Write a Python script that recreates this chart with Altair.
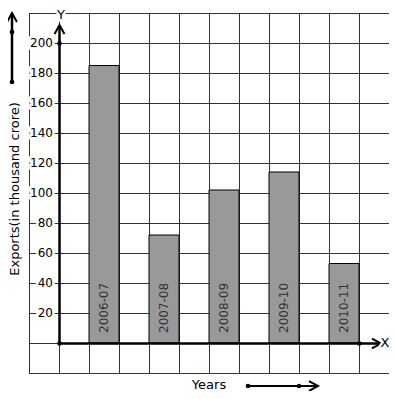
import altair as alt
import pandas as pd

years = ["2006-07", "2007-08", "2008-09", "2009-10", "2010-11"]
exports = [185, 72, 102, 114, 53]
y_labels = [20, 40, 60, 80, 100, 120, 140, 160, 180, 200]
x_grid = list(range(-1, 12))
y_grid = list(range(-20, 221, 20))

df = pd.DataFrame({"year": years, "value": exports})
df["x0"] = [2 * i + 1 for i in range(len(years))]
df["x1"] = df["x0"] + 1
df["xm"] = df["x0"] + 0.5
df["base"] = 0

lab = pd.DataFrame({"v": y_labels})
gx = pd.DataFrame({"gx": x_grid})
gy = pd.DataFrame({"gy": y_grid})
one = pd.DataFrame({"a": [0]})

FONT = "DejaVu Sans"
xs = alt.Scale(domain=[-1, 11], nice=False, zero=False)
ys = alt.Scale(domain=[-20, 220], nice=False, zero=False)

vgrid = alt.Chart(gx).mark_rule(color="#333", strokeWidth=1, xOffset=0.5).encode(
    x=alt.X("gx:Q", scale=xs, axis=None), y=alt.value(0), y2=alt.value(360))
hgrid = alt.Chart(gy).mark_rule(color="#333", strokeWidth=1, yOffset=0.5).encode(
    y=alt.Y("gy:Q", scale=ys, axis=None), x=alt.value(0), x2=alt.value(361))

bars = alt.Chart(df).mark_rect(fill="#999999", stroke="black", strokeWidth=1).encode(
    x=alt.X("x0:Q", scale=xs, axis=None),
    x2="x1",
    y=alt.Y("value:Q", scale=ys, axis=None),
    y2="base",
)

bar_text = alt.Chart(df).mark_text(angle=270, align="left", baseline="middle", dx=10,
                                   font=FONT, fontSize=12, color="#333").encode(
    x=alt.X("xm:Q", scale=xs, axis=None), y=alt.Y("base:Q", scale=ys, axis=None),
    text="year:N")

halo = alt.Chart(lab).mark_text(align="right", baseline="middle", font=FONT, fontSize=12,
                                color="white", stroke="white", strokeWidth=5).encode(
    x=alt.value(24), y=alt.Y("v:Q", scale=ys, axis=None), text="v:Q")
ylab = alt.Chart(lab).mark_text(align="right", baseline="middle", font=FONT, fontSize=12,
                                color="black").encode(
    x=alt.value(24), y=alt.Y("v:Q", scale=ys, axis=None), text="v:Q")

def rule(x, y, x2=None, y2=None, w=2.5):
    enc = dict(x=alt.value(x), y=alt.value(y))
    if x2 is not None:
        enc["x2"] = alt.value(x2)
    if y2 is not None:
        enc["y2"] = alt.value(y2)
    return alt.Chart(one).mark_rule(color="black", strokeWidth=w).encode(**enc)

UP = "M-0.55,1L0,0L0.55,1"
RIGHT = "M-1,-0.55L0,0L-1,0.55"

def arrow(x, y, shape):
    return alt.Chart(one).mark_point(shape=shape, filled=False, stroke="black",
                                     strokeWidth=2, size=324, opacity=1).encode(
        x=alt.value(x), y=alt.value(y))

def dot(x, y):
    return alt.Chart(one).mark_circle(color="black", size=22, opacity=1).encode(
        x=alt.value(x), y=alt.value(y))

def txt(x, y, s, size=13, angle=0, halo_on=False):
    layers = []
    if halo_on:
        layers.append(alt.Chart(one).mark_text(text=s, font=FONT, fontSize=size, angle=angle,
                                               color="white", stroke="white", strokeWidth=5,
                                               align="center", baseline="middle").encode(
            x=alt.value(x), y=alt.value(y)))
    layers.append(alt.Chart(one).mark_text(text=s, font=FONT, fontSize=size, angle=angle,
                                           color="black", align="center", baseline="middle").encode(
        x=alt.value(x), y=alt.value(y)))
    return layers

deco = [
    rule(30.5, 330.5, y2=13),
    arrow(30.5, 12, UP),
    dot(30.5, 330.5), dot(30.5, 30.5),
    rule(30.5, 330.5, x2=351),
    arrow(352, 330.5, RIGHT),
    dot(330.5, 330.5),
    rule(-17, 69, y2=1),
    arrow(-17, 0, UP),
    dot(-17, 19), dot(-17, 69),
    rule(219, 373, x2=288, w=2),
    arrow(289, 373, RIGHT),
    dot(219, 373), dot(270, 373),
]
texts = (txt(32, 2, "Y", halo_on=True) + txt(356, 330, "X", halo_on=True)
         + txt(-14, 176, "Exports(in thousand crore)", angle=270)
         + txt(180, 372, "Years"))

chart = alt.layer(vgrid, hgrid, bars, bar_text, halo, ylab, *deco, *texts).properties(
    width=360, height=360,
    autosize=alt.AutoSizeParams(type="none"),
    padding={"left": 21, "top": 5, "right": 0, "bottom": 18},
).configure_view(stroke=None).configure(background="white")

chart.save("out.html", embed_options={"renderer": "svg", "actions": False})
